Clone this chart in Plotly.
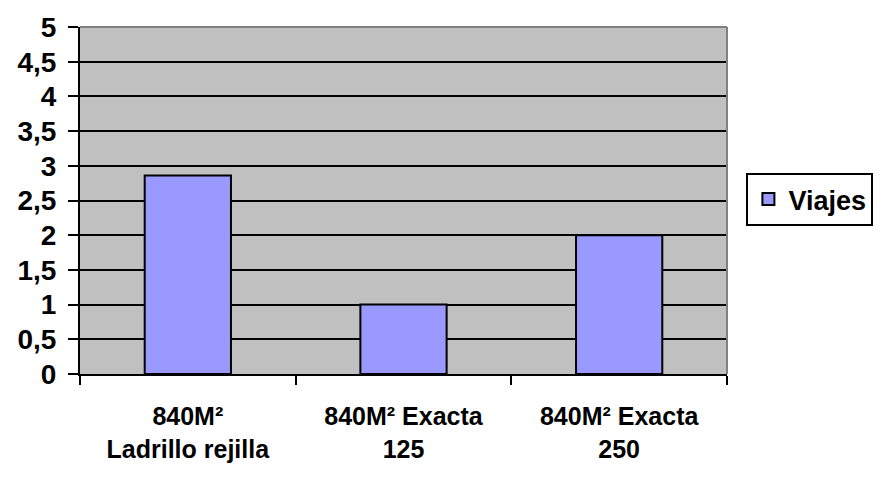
import plotly.graph_objects as go

# Data
categorias = ["840M²<br>Ladrillo rejilla", "840M² Exacta<br>125", "840M² Exacta<br>250"]
viajes = [2.86, 1, 2]
serie = "Viajes"

FONT = "Liberation Sans, Arial, sans-serif"

fig = go.Figure()
fig.add_trace(go.Bar(
    x=categorias,
    y=viajes,
    name=serie,
    marker=dict(color="#9999FF", line=dict(color="black", width=2)),
    showlegend=True,
))

fig.update_layout(
    width=887,
    height=483,
    margin=dict(l=80, r=160, t=24, b=109),
    paper_bgcolor="white",
    plot_bgcolor="#C0C0C0",
    bargap=0.6,
    separators=",.",
    font=dict(family=FONT, color="black"),
    showlegend=True,
    legend=dict(
        x=1.03, xanchor="left",
        y=0.503, yanchor="middle",
        bordercolor="black", borderwidth=2,
        bgcolor="white",
        font=dict(family=FONT, size=27, color="black", weight="bold"),
        itemwidth=30,
        tracegroupgap=0,
    ),
    xaxis=dict(
        type="category",
        showline=True, linecolor="black", linewidth=2,
        ticks="outside", tickson="boundaries", ticklen=9, tickwidth=2, tickcolor="black",
        tickfont=dict(family=FONT, size=25, color="black", weight="bold"),
        ticklabelstandoff=19,
        showgrid=False,
        zeroline=False,
    ),
    yaxis=dict(
        range=[0, 5], dtick=0.5, tick0=0,
        showline=True, linecolor="black", linewidth=2,
        ticks="outside", ticklen=10, tickwidth=2, tickcolor="black",
        tickfont=dict(family=FONT, size=28, color="black", weight="bold"),
        ticklabelstandoff=6,
        showgrid=True, gridcolor="black", gridwidth=2,
        zeroline=False,
    ),
    shapes=[
        dict(type="line", xref="paper", yref="paper", x0=0, x1=1, y0=1, y1=1,
             line=dict(color="#808080", width=2)),
        dict(type="line", xref="paper", yref="paper", x0=1, x1=1, y0=0, y1=1,
             line=dict(color="#808080", width=2)),
    ],
)

fig.write_html("out.html")
